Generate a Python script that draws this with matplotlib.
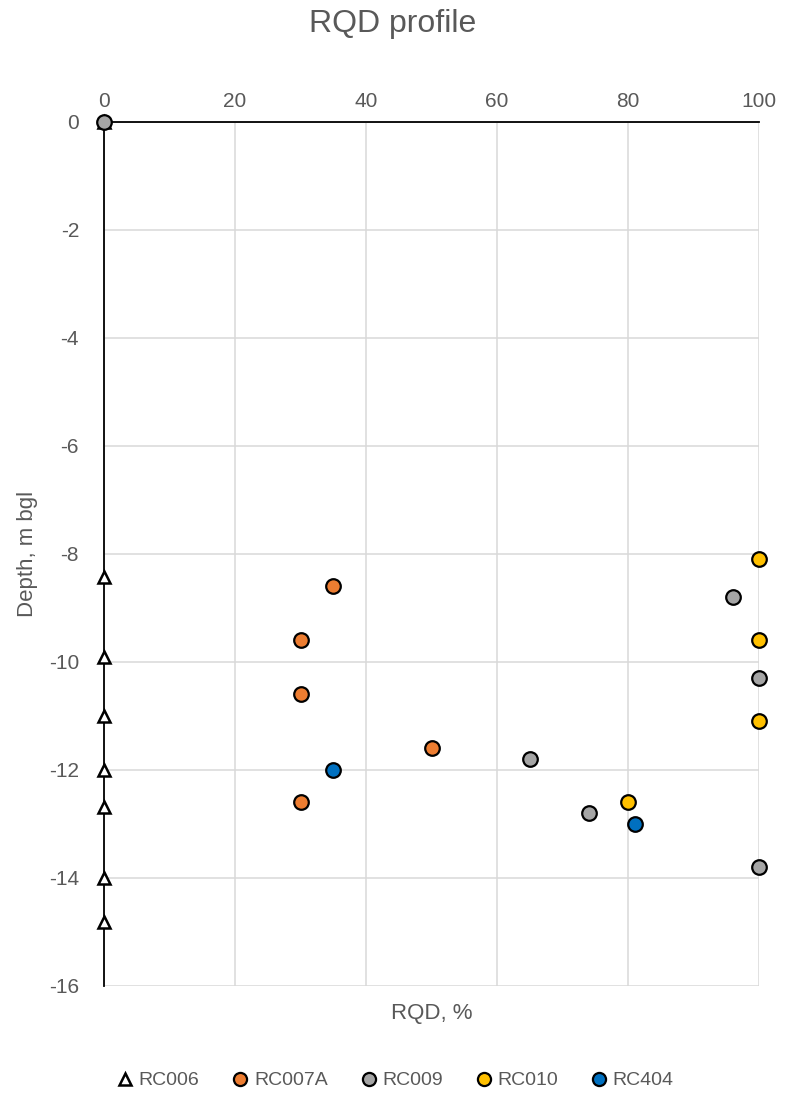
import matplotlib
matplotlib.use("Agg")
import matplotlib.pyplot as plt

plt.rcParams["font.family"] = ["Liberation Sans Narrow", "Liberation Sans", "DejaVu Sans"]
plt.rcParams["axes.unicode_minus"] = False

TEXT = "#595959"
GRID = "#d9d9d9"

# RQD (%) and depth (m bgl) per borehole
rc006_rqd   = [0, 0, 0, 0, 0, 0, 0, 0]
rc006_depth = [0, -8.43, -9.91, -11.0, -12.0, -12.69, -14.0, -14.81]

rc007a_rqd   = [35, 30, 30, 50, 30]
rc007a_depth = [-8.6, -9.6, -10.6, -11.6, -12.6]

rc009_rqd   = [0, 96, 100, 65, 74, 100]
rc009_depth = [0, -8.8, -10.3, -11.8, -12.8, -13.8]

rc010_rqd   = [100, 100, 100, 80]
rc010_depth = [-8.1, -9.6, -11.1, -12.6]

rc404_rqd   = [35, 81]
rc404_depth = [-12.0, -13.0]

x_ticks = [0, 20, 40, 60, 80, 100]
y_ticks = [0, -2, -4, -6, -8, -10, -12, -14, -16]

fig = plt.figure(figsize=(7.85, 10.96), dpi=100)
ax = fig.add_axes([0.1325, 0.1004, 0.8345, 0.7883])

ax.plot(rc006_rqd, rc006_depth, ls="none", marker="^", ms=9, mfc="white",
        mec="black", mew=1.8, label="RC006", clip_on=False, zorder=3)
circle = dict(ls="none", marker="o", ms=10.5, mec="black", mew=1.6,
              clip_on=False, zorder=4)
ax.plot(rc007a_rqd, rc007a_depth, mfc="#ED7D31", label="RC007A", **circle)
ax.plot(rc009_rqd, rc009_depth, mfc="#A5A5A5", label="RC009", **circle)
ax.plot(rc010_rqd, rc010_depth, mfc="#FFC000", label="RC010", **circle)
ax.plot(rc404_rqd, rc404_depth, mfc="#0070C0", label="RC404", **circle)

ax.set_xlim(0, 100)
ax.set_ylim(-16, 0)
ax.set_xticks(x_ticks)
ax.set_yticks(y_ticks)
ax.xaxis.tick_top()
ax.tick_params(length=0, labelsize=15, labelcolor=TEXT)
ax.tick_params(axis="x", pad=8)
ax.tick_params(axis="y", pad=18)
ax.grid(True, color=GRID, lw=1.1)
ax.set_axisbelow(True)

for side in ["bottom", "right"]:
    ax.spines[side].set_visible(False)
for side in ["top", "left"]:
    ax.spines[side].set_color("black")
    ax.spines[side].set_linewidth(1.3)
    ax.spines[side].set_zorder(2.5)

ax.set_xlabel("RQD, %", fontsize=16, color=TEXT, labelpad=12)
ax.set_ylabel("Depth, m bgl", fontsize=16, color=TEXT, labelpad=8)
fig.suptitle("RQD profile", fontsize=23, color=TEXT, y=0.992)

fig.legend(loc="lower center", ncol=5, frameon=False, fontsize=14,
           labelcolor=TEXT, bbox_to_anchor=(0.5, -0.01), handletextpad=0.0,
           columnspacing=1.4, handlelength=1.4, markerscale=0.9)

fig.savefig("out.png", dpi=100)
